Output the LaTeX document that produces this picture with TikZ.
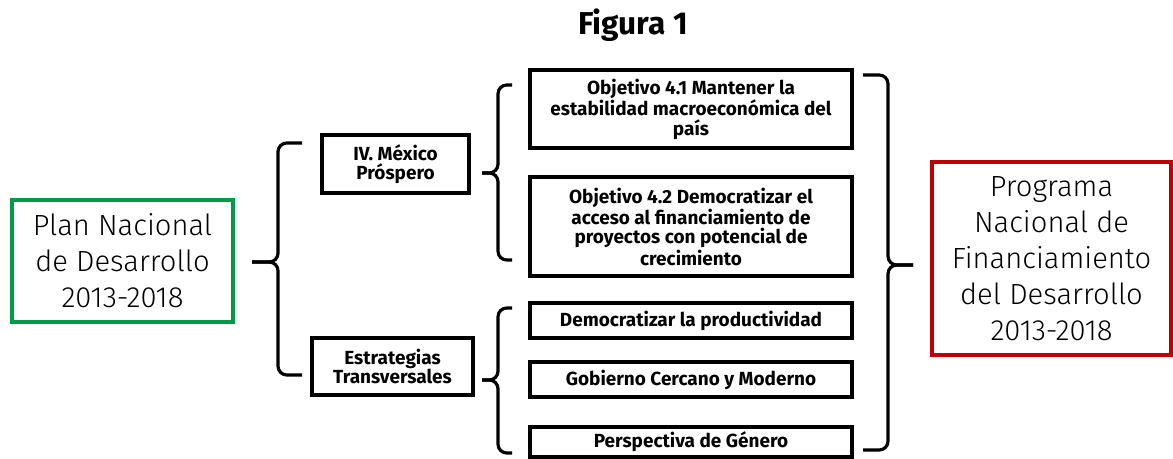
\documentclass[tikz,border=0pt]{standalone}
\usepackage{fontspec}
\setmainfont{Fira Sans}
\newfontfamily\lightfont{Fira Sans Light}
\definecolor{pndgreen}{RGB}{0,155,72}
\definecolor{pnfdred}{RGB}{192,0,0}
\begin{document}
\begin{tikzpicture}[x=0.02cm,y=-0.02cm]
\tikzstyle{every node}=[inner sep=0pt]
\tikzstyle{caja}=[draw,line width=1.8pt,align=center,font=\bfseries\fontsize{10.8}{11}\selectfont]
\tikzstyle{grande}=[draw,line width=1.8pt,align=center,font=\lightfont\fontsize{16.6}{20.4}\selectfont]
\tikzstyle{llave}=[line width=1.8pt,rounded corners=5pt]
\useasboundingbox (0,0) rectangle (1173,459);
\node[font=\bfseries\fontsize{18}{20}\selectfont](titulo) at (633,25) {Figura 1};
% planes
\node[grande,draw=pndgreen,minimum width=4.42cm,minimum height=2.44cm](pnd) at (122.5,261) {Plan Nacional\\de Desarrollo\\2013-2018};
\node[grande,draw=pnfdred,minimum width=4.78cm,minimum height=3.86cm](pnfd) at (1051.5,258.5) {Programa\\Nacional de\\Financiamiento\\del Desarrollo\\2013-2018};
% metas
\node[caja,minimum width=2.94cm,minimum height=1.16cm](mex) at (395.5,164) {IV. México\\Próspero};
\node[caja,minimum width=3.22cm,minimum height=1.14cm](est) at (392.5,366.5) {Estrategias\\Transversales};
% objetivos
\node[caja,minimum width=6.44cm,minimum height=1.56cm](obj1) at (691,109) {Objetivo 4.1 Mantener la\\estabilidad macroeconómica del\\país};
\node[caja,minimum width=6.44cm,minimum height=1.98cm](obj2) at (691,226.5) {Objetivo 4.2 Democratizar el\\acceso al financiamiento de\\proyectos con potencial de\\crecimiento};
\node[caja,minimum width=6.44cm,minimum height=0.70cm](dem) at (691,320.5) {Democratizar la productividad};
\node[caja,minimum width=6.44cm,minimum height=0.70cm](gob) at (691,379.5) {Gobierno Cercano y Moderno};
\node[caja,minimum width=6.44cm,minimum height=0.60cm](per) at (691,442) {Perspectiva de Género};
% llaves
\draw[llave] (302,143) -- (278,143) -- (278,262) -- (252,262);
\draw[llave] (252,262) -- (278,262) -- (278,375) -- (302,375);
\draw[llave] (512,85) -- (498,85) -- (498,173) -- (482,173);
\draw[llave] (482,173) -- (498,173) -- (498,260) -- (512,260);
\draw[llave] (512,308) -- (498,308) -- (498,380) -- (482,380);
\draw[llave] (482,380) -- (498,380) -- (498,453) -- (512,453);
\draw[llave] (863,75) -- (888,75) -- (888,265) -- (913,265);
\draw[llave] (913,265) -- (888,265) -- (888,450) -- (863,450);
\end{tikzpicture}
\end{document}
